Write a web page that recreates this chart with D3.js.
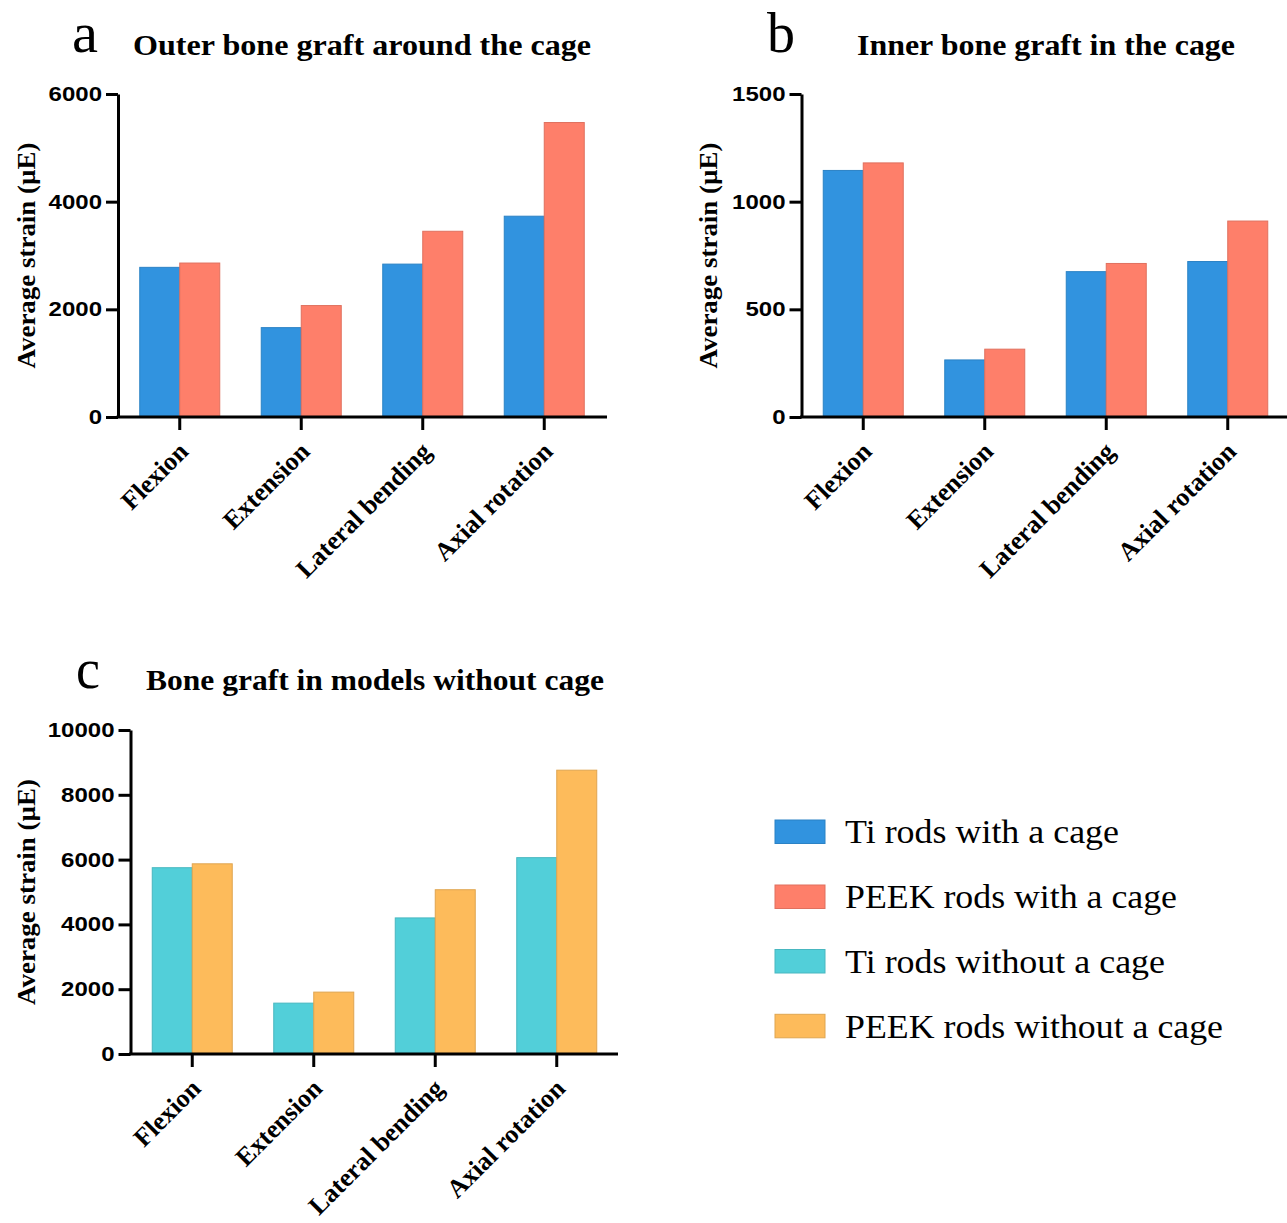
<!DOCTYPE html>
<html>
<head>
<meta charset="utf-8">
<script src="https://cdn.jsdelivr.net/npm/d3@7"></script>
<style>
  html, body { margin: 0; padding: 0; background: #fff; }
  svg { display: block; }
</style>
</head>
<body>
<svg id="fig" width="1287" height="1223"></svg>
<script>
// Loading conditions shared by every panel
const categories = ["Flexion", "Extension", "Lateral bending", "Axial rotation"];

// a: outer bone graft around the cage (µE)
const outerTi   = [2780, 1660, 2840, 3730];
const outerPeek = [2860, 2070, 3450, 5470];
const outerTicks = [0, 2000, 4000, 6000];

// b: inner bone graft in the cage (µE)
const innerTi   = [1145, 265, 675, 722];
const innerPeek = [1180, 315, 713, 910];
const innerTicks = [0, 500, 1000, 1500];

// c: bone graft in models without cage (µE)
const noCageTi   = [5750, 1570, 4200, 6060];
const noCagePeek = [5870, 1910, 5070, 8760];
const noCageTicks = [0, 2000, 4000, 6000, 8000, 10000];

const seriesNames = ["Ti rods with a cage", "PEEK rods with a cage",
                     "Ti rods without a cage", "PEEK rods without a cage"];
const seriesColors = ["#3193df", "#fe7f6a", "#52cfd9", "#fdbb5b"];

const yLabel = "Average strain (\u00b5E)";
const SERIF = "Liberation Serif, Times New Roman, serif";
const SANS = "Liberation Sans, Arial, sans-serif";

const svg = d3.select("#fig");

function drawPanel(cfg) {
  const g = svg.append("g");
  const y = d3.scaleLinear().domain([0, cfg.max]).range([cfg.baseY, cfg.topY]);
  const step = 121.5;
  const x = d3.scaleBand().domain(categories)
    .range([cfg.axisX + 1, cfg.axisX + 1 + step * categories.length]);
  const xs = d3.scaleBand().domain([0, 1]).range([-40, 40]);

  // bars
  categories.forEach((c, i) => {
    [cfg.a[i], cfg.b[i]].forEach((v, s) => {
      const col = cfg.colors[s];
      g.append("rect")
        .attr("x", x(c) + x.bandwidth() / 2 + xs(s))
        .attr("y", y(v))
        .attr("width", xs.bandwidth())
        .attr("height", cfg.baseY - y(v))
        .attr("fill", col)
        .attr("stroke", d3.color(col).darker(0.35))
        .attr("stroke-width", 1);
    });
  });

  // y axis
  const ya = g.append("g")
    .attr("transform", `translate(${cfg.axisX},0)`)
    .call(d3.axisLeft(y).tickValues(cfg.ticks).tickFormat(d3.format("d"))
      .tickSize(12).tickSizeOuter(0).tickPadding(4));
  ya.selectAll("path, line").attr("stroke", "#000").attr("stroke-width", 3);
  ya.selectAll("text")
    .attr("font-family", SANS).attr("font-weight", "bold").attr("font-size", 20)
    .attr("fill", "#000")
    .each(function () {
      const w = this.getComputedTextLength();
      d3.select(this).attr("textLength", w * 1.2).attr("lengthAdjust", "spacingAndGlyphs");
    });

  // x axis
  const xa = g.append("g")
    .attr("transform", `translate(0,${cfg.baseY})`)
    .call(d3.axisBottom(x).tickSize(13).tickSizeOuter(0));
  xa.select(".domain").remove();
  xa.selectAll("line").attr("stroke", "#000").attr("stroke-width", 3);
  xa.selectAll("text")
    .attr("x", 0).attr("y", 0).attr("dy", 0)
    .attr("transform", "translate(10,36) rotate(-45)")
    .attr("text-anchor", "end")
    .attr("font-family", SERIF).attr("font-weight", "bold").attr("font-size", 26)
    .attr("fill", "#000");
  g.append("line")
    .attr("x1", cfg.axisX - 1.5).attr("x2", cfg.rightX)
    .attr("y1", cfg.baseY).attr("y2", cfg.baseY)
    .attr("stroke", "#000").attr("stroke-width", 3);

  // y label
  g.append("text")
    .attr("transform", `translate(${cfg.labelX},${(cfg.baseY + cfg.topY) / 2 + cfg.labelDy}) rotate(-90)`)
    .attr("text-anchor", "middle")
    .attr("dominant-baseline", "central")
    .attr("font-family", SERIF).attr("font-weight", "bold").attr("font-size", 26)
    .attr("textLength", 226).attr("lengthAdjust", "spacingAndGlyphs")
    .text(yLabel);

  // panel letter and title
  g.append("text")
    .attr("x", cfg.letterX).attr("y", cfg.letterY)
    .attr("font-family", SERIF).attr("font-size", 58)
    .attr("textLength", cfg.letterW).attr("lengthAdjust", "spacingAndGlyphs")
    .text(cfg.letter);
  g.append("text")
    .attr("x", cfg.titleX).attr("y", cfg.titleY)
    .attr("font-family", SERIF).attr("font-weight", "bold").attr("font-size", 30)
    .attr("textLength", cfg.titleW).attr("lengthAdjust", "spacingAndGlyphs")
    .text(cfg.title);
}

drawPanel({
  a: outerTi, b: outerPeek, colors: seriesColors.slice(0, 2),
  max: 6000, ticks: outerTicks,
  axisX: 118, baseY: 417, topY: 94, rightX: 607,
  labelX: 26, labelDy: 0,
  letter: "a", letterX: 72, letterY: 52, letterW: 26,
  title: "Outer bone graft around the cage", titleX: 133, titleY: 55, titleW: 458
});

drawPanel({
  a: innerTi, b: innerPeek, colors: seriesColors.slice(0, 2),
  max: 1500, ticks: innerTicks,
  axisX: 801.5, baseY: 417, topY: 94, rightX: 1287,
  labelX: 708, labelDy: 0,
  letter: "b", letterX: 767, letterY: 52, letterW: 28,
  title: "Inner bone graft in the cage", titleX: 857, titleY: 55, titleW: 378
});

drawPanel({
  a: noCageTi, b: noCagePeek, colors: seriesColors.slice(2, 4),
  max: 10000, ticks: noCageTicks,
  axisX: 130.5, baseY: 1054, topY: 730, rightX: 618,
  labelX: 26, labelDy: 0,
  letter: "c", letterX: 76, letterY: 688, letterW: 24,
  title: "Bone graft in models without cage", titleX: 146, titleY: 690, titleW: 458
});

// legend
const legendY = [820, 885, 949.5, 1014.3];
const legendW = [274, 332, 320, 378];
const legend = svg.append("g");
seriesNames.forEach((name, i) => {
  const col = seriesColors[i];
  legend.append("rect")
    .attr("x", 775).attr("y", legendY[i]).attr("width", 50).attr("height", 23.5)
    .attr("fill", col).attr("stroke", d3.color(col).darker(0.35)).attr("stroke-width", 1);
  legend.append("text")
    .attr("x", 845).attr("y", legendY[i] + 23.3)
    .attr("font-family", SERIF).attr("font-size", 33)
    .attr("textLength", legendW[i]).attr("lengthAdjust", "spacingAndGlyphs")
    .text(name);
});
</script>
</body>
</html>
